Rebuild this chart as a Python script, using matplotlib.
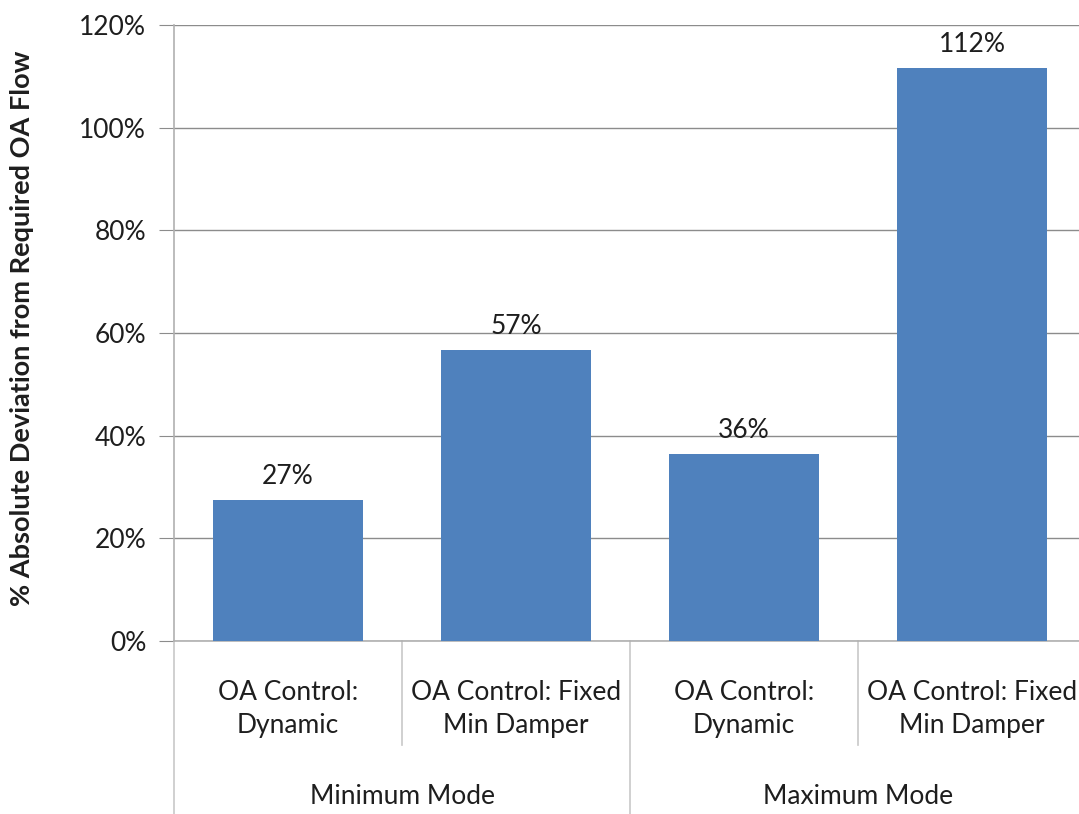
import matplotlib
matplotlib.use("Agg")
import matplotlib.pyplot as plt
from matplotlib.ticker import FuncFormatter

# ── Data ──────────────────────────────────────────────────────────────
categories = ["OA Control:\nDynamic", "OA Control: Fixed\nMin Damper",
              "OA Control:\nDynamic", "OA Control: Fixed\nMin Damper"]
groups = ["Minimum Mode", "Maximum Mode"]
values = [0.274, 0.566, 0.364, 1.117]
yticks = [0.0, 0.2, 0.4, 0.6, 0.8, 1.0, 1.2]

BAR = "#4F81BD"
GRID = "#8C8C8C"
TXT = "#1E1E1E"
FONT = ["Lato", "DejaVu Sans"]
FS = 19

plt.rcParams["font.family"] = FONT

W, H = 1079, 814
fig = plt.figure(figsize=(W / 100, H / 100), dpi=100)

# axes frame in pixels: left 174, bottom 641, top 25, right ~1086 (runs off the edge)
x0, y0, y1 = 174, 641, 25
cat_w = 228
ax = fig.add_axes([x0 / W, (H - y0) / H, 4 * cat_w / W, (y0 - y1) / H])
ax_h = y0 - y1

xs = list(range(len(values)))
ax.bar(xs, values, width=0.66, color=BAR, zorder=3)
ax.set_xlim(-0.5, 3.5)
ax.set_ylim(0, 1.2)
ax.set_yticks(yticks)
ax.yaxis.set_major_formatter(FuncFormatter(lambda v, p: f"{v * 100:.0f}%"))
ax.grid(axis="y", color=GRID, linewidth=1.0, zorder=0)
ax.set_xticks([])

for s in ["top", "right"]:
    ax.spines[s].set_visible(False)
for s in ["left", "bottom"]:
    ax.spines[s].set_color("#B0B0B0")
    ax.spines[s].set_linewidth(1.2)

ax.tick_params(axis="y", length=11, color=GRID, pad=9, labelsize=FS, labelcolor=TXT)

# value labels above bars
for x, v in zip(xs, values):
    ax.annotate(f"{v * 100:.0f}%", (x, v), xytext=(0, 11), textcoords="offset pixels",
                ha="center", va="bottom", fontsize=FS, color=TXT)

# category labels and separators below the axis
tr = ax.get_xaxis_transform()
for x, lab in zip(xs, categories):
    ax.annotate(lab, (x, 0), xycoords=tr, xytext=(0, -68), textcoords="offset pixels",
                ha="center", va="center", fontsize=FS, color=TXT, linespacing=1.45)

for i, g in enumerate(groups):
    ax.annotate(g, (2 * i + 0.5, 0), xycoords=tr, xytext=(0, -156),
                textcoords="offset pixels", ha="center", va="center",
                fontsize=FS, color=TXT)

sep_short = -104 / ax_h
sep_long = -(H - y0) / ax_h
for xb in [0.5, 2.5]:
    ax.plot([xb, xb], [0, sep_short], transform=tr, color="#C8C8C8", lw=1.2, clip_on=False)
for xb in [-0.5, 1.5, 3.5]:
    ax.plot([xb, xb], [0, sep_long], transform=tr, color="#C8C8C8", lw=1.2, clip_on=False)

fig.text(22 / W, 1 - 328 / H, "% Absolute Deviation from Required OA Flow",
         rotation=90, ha="center", va="center", fontsize=19.5, fontweight="bold",
         color=TXT)

fig.savefig("out.png", dpi=100)
